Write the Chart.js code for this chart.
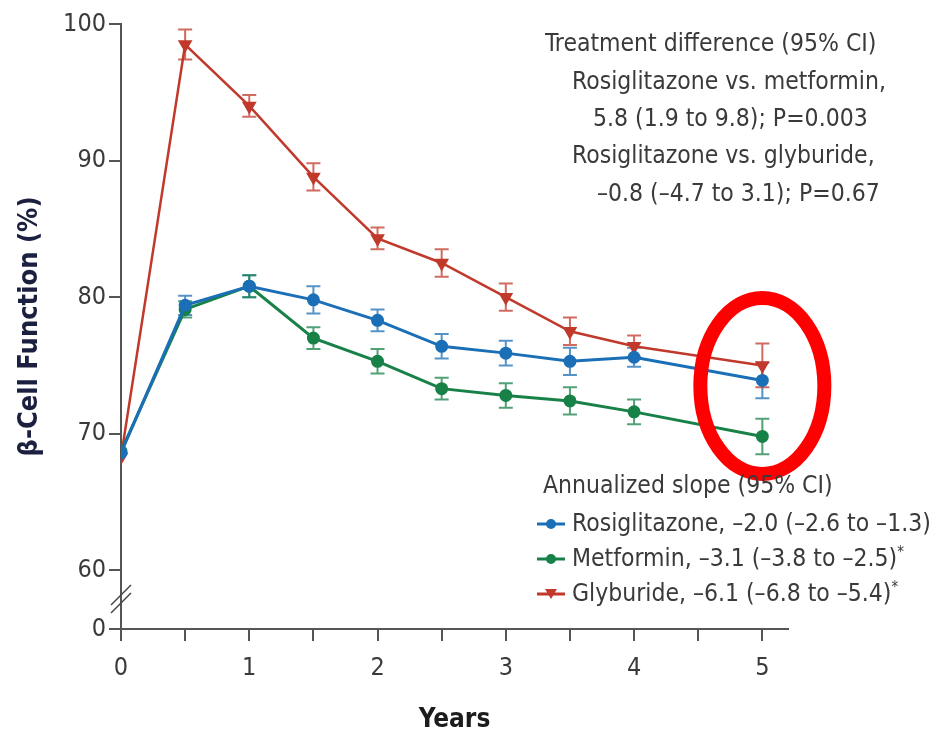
<!DOCTYPE html>
<html>
<head>
<meta charset="utf-8">
<script src="https://cdn.jsdelivr.net/npm/chart.js@4.4.1/dist/chart.umd.min.js"></script>
<style>
  body { margin: 0; background: #fff; }
  #wrap { position: relative; width: 933px; height: 736px; }
  .note {
    position: absolute;
    font-family: "Liberation Sans Narrow", "DejaVu Sans Condensed", sans-serif;
    font-size: 24.5px;
    line-height: 35px;
    height: 35px;
    color: #3a3a3a;
    white-space: nowrap;
  }
  .note sup { font-size: 15px; line-height: 0; vertical-align: 9px; }
  .key svg { vertical-align: middle; margin-right: 5px; }
</style>
</head>
<body>
<div id="wrap">
  <canvas id="chart" width="933" height="736"></canvas>
  <div class="note" style="left:545px; top:25px;">Treatment difference (95% CI)</div>
  <div class="note" style="left:572px; top:63px;">Rosiglitazone vs. metformin,</div>
  <div class="note" style="left:593px; top:100px;">5.8 (1.9 to 9.8); P=0.003</div>
  <div class="note" style="left:572px; top:137px;">Rosiglitazone vs. glyburide,</div>
  <div class="note" style="left:597px; top:175px;">&ndash;0.8 (&ndash;4.7 to 3.1); P=0.67</div>

  <div class="note" style="left:543px; top:467px;">Annualized slope (95% CI)</div>
  <div class="note key" style="left:535px; top:505px;"><svg width="32" height="16"><line x1="2" y1="8" x2="30" y2="8" stroke="#1b6fb6" stroke-width="3"/><circle cx="16" cy="8" r="5" fill="#1b6fb6"/></svg>Rosiglitazone, &ndash;2.0 (&ndash;2.6 to &ndash;1.3)</div>
  <div class="note key" style="left:535px; top:540px;"><svg width="32" height="16"><line x1="2" y1="8" x2="30" y2="8" stroke="#178148" stroke-width="3"/><circle cx="16" cy="8" r="5" fill="#178148"/></svg>Metformin, &ndash;3.1 (&ndash;3.8 to &ndash;2.5)<sup>*</sup></div>
  <div class="note key" style="left:535px; top:575px;"><svg width="32" height="16"><line x1="2" y1="8" x2="30" y2="8" stroke="#c0392b" stroke-width="3"/><polygon points="10,3 22,3 16,13" fill="#c0392b"/></svg>Glyburide, &ndash;6.1 (&ndash;6.8 to &ndash;5.4)<sup>*</sup></div>
</div>
<script>
// years of follow-up
const years = [0, 0.5, 1, 1.5, 2, 2.5, 3, 3.5, 4, 5];
const xTicks = [0, 0.5, 1, 1.5, 2, 2.5, 3, 3.5, 4, 4.5, 5];
const yTicks = [60, 70, 80, 90, 100];

// beta-cell function (%) and half-width of the 95% CI bars
const rosiglitazone = [68.6, 79.4, 80.8, 79.8, 78.3, 76.4, 75.9, 75.3, 75.6, 73.9];
const rosiglitazoneErr = [0, 0.7, 0.8, 1.0, 0.8, 0.9, 0.9, 1.0, 0.7, 1.3];
const metformin = [68.7, 79.1, 80.8, 77.0, 75.3, 73.3, 72.8, 72.4, 71.6, 69.8];
const metforminErr = [0, 0.6, 0.8, 0.8, 0.9, 0.8, 0.9, 1.0, 0.9, 1.3];
const glyburide = [68.3, 98.5, 94.0, 88.8, 84.3, 82.5, 80.0, 77.5, 76.4, 75.0];
const glyburideErr = [0, 1.1, 0.8, 1.0, 0.8, 1.0, 1.0, 1.0, 0.8, 1.6];

const AXIS_FLOOR = 55.7;   // where the broken axis shows "0"
const FONT = '"Liberation Sans Narrow", "DejaVu Sans Condensed", sans-serif';

const BLUE = '#1b6fb6', GREEN = '#178148', RED = '#c0392b';

function points(vals) {
  return years.map((x, i) => ({ x: x, y: vals[i] }));
}

const errorBars = {
  id: 'errorBars',
  beforeDatasetsDraw(chart) {
    const ctx = chart.ctx;
    const xs = chart.scales.x, ys = chart.scales.y;
    chart.data.datasets.forEach(ds => {
      ctx.save();
      ctx.strokeStyle = ds.borderColor;
      ctx.globalAlpha = 0.75;
      ctx.lineWidth = 2;
      ds.data.forEach((p, i) => {
        const e = ds.err[i];
        if (!e) return;
        const px = xs.getPixelForValue(p.x);
        const top = ys.getPixelForValue(p.y + e);
        const bot = ys.getPixelForValue(p.y - e);
        ctx.beginPath();
        ctx.moveTo(px, top); ctx.lineTo(px, bot);
        ctx.moveTo(px - 7, top); ctx.lineTo(px + 7, top);
        ctx.moveTo(px - 7, bot); ctx.lineTo(px + 7, bot);
        ctx.stroke();
      });
      ctx.restore();
    });
  }
};

const extras = {
  id: 'extras',
  afterDraw(chart) {
    const ctx = chart.ctx;
    const xs = chart.scales.x, ys = chart.scales.y;
    // axis break marks
    const bx = xs.getPixelForValue(0);
    const by = ys.getPixelForValue(57.9);
    ctx.save();
    ctx.strokeStyle = '#444';
    ctx.lineWidth = 1.5;
    [-4, 4].forEach(d => {
      ctx.beginPath();
      ctx.moveTo(bx - 10, by + d + 10);
      ctx.lineTo(bx + 10, by + d - 10);
      ctx.stroke();
    });
    // red highlight ring around year 5
    ctx.strokeStyle = '#ff0000';
    ctx.lineWidth = 14;
    ctx.beginPath();
    ctx.ellipse(xs.getPixelForValue(5), ys.getPixelForValue(73.5), 62, 88, 0, 0, Math.PI * 2);
    ctx.stroke();
    ctx.restore();
  }
};

new Chart(document.getElementById('chart'), {
  type: 'line',
  data: {
    datasets: [
      { label: 'Rosiglitazone', data: points(rosiglitazone), err: rosiglitazoneErr,
        borderColor: BLUE, backgroundColor: BLUE, pointRadius: 5, borderWidth: 3 },
      { label: 'Metformin', data: points(metformin), err: metforminErr,
        borderColor: GREEN, backgroundColor: GREEN, pointRadius: 5, borderWidth: 3 },
      { label: 'Glyburide', data: points(glyburide), err: glyburideErr,
        borderColor: RED, backgroundColor: RED, pointStyle: 'triangle', rotation: 180,
        pointRadius: 6, borderWidth: 2.5 }
    ]
  },
  options: {
    responsive: false,
    animation: false,
    layout: { padding: { top: 24, right: 145, left: 0, bottom: 0 } },
    plugins: { legend: { display: false }, tooltip: { enabled: false } },
    scales: {
      x: {
        type: 'linear',
        min: 0,
        max: 5.2,
        afterBuildTicks: s => { s.ticks = xTicks.map(v => ({ value: v })); },
        afterFit: s => { s.height = 107; },
        ticks: {
          autoSkip: false, maxRotation: 0, padding: 12,
          color: '#3a3a3a', font: { family: FONT, size: 25 },
          callback: v => Number.isInteger(v) ? v : ''
        },
        grid: { drawOnChartArea: false, tickLength: 12, color: '#555', lineWidth: 2 },
        border: { color: '#555', width: 2 },
        title: { display: true, text: 'Years', color: '#1c1c1c', padding: { top: 0, bottom: 0 },
          font: { family: FONT, size: 26, weight: 'bold' } }
      },
      y: {
        min: AXIS_FLOOR,
        max: 100,
        afterBuildTicks: s => { s.ticks = [AXIS_FLOOR].concat(yTicks).map(v => ({ value: v })); },
        afterFit: s => { s.width = 121; },
        ticks: {
          padding: 3,
          color: '#3a3a3a', font: { family: FONT, size: 25 },
          callback: v => v === AXIS_FLOOR ? '0' : v
        },
        grid: { drawOnChartArea: false, tickLength: 12, color: '#555', lineWidth: 2 },
        border: { color: '#555', width: 2 },
        title: { display: true, text: 'β-Cell Function (%)', color: '#1c2040', padding: { top: 14, bottom: 0 },
          font: { family: FONT, size: 27, weight: 'bold' } }
      }
    }
  },
  plugins: [errorBars, extras]
});
</script>
</body>
</html>
